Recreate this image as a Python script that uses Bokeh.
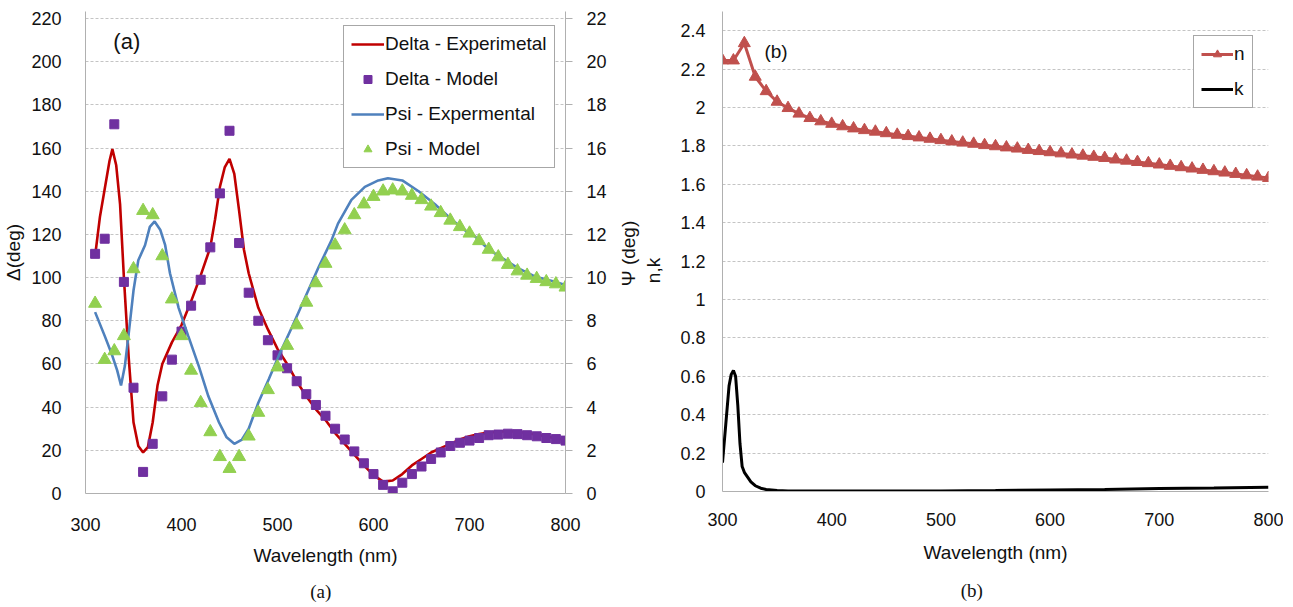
import math
from bokeh.plotting import figure
from bokeh.models import (Range1d, LinearAxis, SingleIntervalTicker, FixedTicker, Legend,
                          LegendItem, Label, Title, CustomJSTickFormatter)
from bokeh.layouts import row
from bokeh.embed import file_html
from bokeh.resources import INLINE

# ---------------- data: panel (a) ----------------
model_wl = list(range(310, 801, 10))
delta_model = [111, 118, 171, 98, 49, 10, 23, 45, 62, 75,
               87, 99, 114, 139, 168, 116, 93, 80, 71, 64,
               58, 52, 46, 41, 36, 30, 25, 19.5, 14, 9,
               4, 1, 5, 9, 12.5, 16, 19, 22, 23.5, 24.5,
               25.7, 27, 27.3, 27.7, 27.5, 27, 26.5, 25.7, 25.2, 24.5]
psi_model = [8.8, 6.2, 6.6, 7.3, 10.4, 13.1, 12.9, 11.0, 9.0, 7.3,
             5.7, 4.2, 2.85, 1.7, 1.15, 1.7, 2.65, 3.75, 4.8, 5.85,
             6.85, 7.8, 8.85, 9.75, 10.65, 11.5, 12.2, 12.9, 13.4, 13.75,
             14.0, 14.05, 14.0, 13.8, 13.6, 13.3, 13.0, 12.65, 12.35, 12.05,
             11.7, 11.3, 10.95, 10.6, 10.3, 10.1, 9.95, 9.8, 9.7, 9.55]

delta_exp_wl = [310, 315, 320, 325, 328, 332, 336, 340, 345, 350, 355, 360, 365, 370, 375,
                380, 390, 400, 410, 420, 430, 435, 440, 445, 450, 455, 460, 465, 470, 480,
                490, 500, 510, 520, 530, 540, 550, 560, 570, 580, 590, 600, 610, 620, 630,
                640, 650, 660, 670, 680, 690, 700, 710, 720, 730, 740, 750, 760, 770, 780,
                790, 800]
delta_exp = [110, 128, 141, 154, 159.5, 152, 134, 100, 63, 33, 22, 19, 21.5, 33, 50,
             60, 70, 78, 89, 101, 114, 127, 142, 151, 155, 148, 131, 113, 102, 86,
             76, 67, 60, 52, 45, 39, 34, 28, 23, 18, 13, 8.5, 5.5, 6, 9,
             13, 16, 19, 21, 23, 25, 26.5, 27.5, 28.2, 28.6, 28.8, 28.6, 28, 27.2, 26.4,
             25.6, 24.8]

psi_exp_wl = [310, 320, 327, 333, 337, 341, 345, 350, 355, 362, 367, 372, 378, 383, 388,
              397, 407, 418, 428, 439, 447, 455, 463, 470, 480, 491, 501, 515, 529, 543,
              556, 563, 577, 591, 605, 615, 630, 647, 664, 681, 695, 706, 720, 734, 750,
              768, 785, 800]
psi_exp = [8.4, 7.3, 6.5, 5.7, 5.0, 5.9, 7.4, 9.4, 10.8, 11.5, 12.35, 12.6, 12.2, 11.5, 10.2,
           8.6, 7.3, 5.9, 4.5, 3.3, 2.6, 2.3, 2.5, 3.0, 4.2, 5.3, 6.35, 7.7, 9.1, 10.5,
           11.7, 12.5, 13.6, 14.2, 14.5, 14.6, 14.5, 14.0, 13.4, 12.7, 12.2, 11.9, 11.3, 10.9, 10.45,
           10.05, 9.85, 9.66]

# ---------------- data: panel (b) ----------------
n_wl = list(range(300, 801, 10))
n_vals = [2.245, 2.245, 2.335, 2.16, 2.085, 2.03, 1.997, 1.968, 1.945, 1.928,
          1.915, 1.902, 1.891, 1.882, 1.874, 1.866, 1.858, 1.851, 1.844, 1.837,
          1.830, 1.823, 1.817, 1.811, 1.804, 1.798, 1.792, 1.786, 1.779, 1.773,
          1.767, 1.761, 1.755, 1.749, 1.743, 1.737, 1.729, 1.723, 1.716, 1.710,
          1.703, 1.696, 1.689, 1.682, 1.675, 1.668, 1.661, 1.654, 1.647, 1.640, 1.633]
k_wl = [300, 303, 306, 308, 310, 312, 314, 316, 318, 320, 323, 326, 330, 335, 340, 350,
        360, 380, 400, 450, 500, 550, 600, 650, 700, 750, 800]
k_vals = [0.15, 0.35, 0.55, 0.61, 0.63, 0.60, 0.45, 0.25, 0.13, 0.10, 0.075, 0.05, 0.03,
          0.017, 0.01, 0.005, 0.003, 0.002, 0.002, 0.002, 0.003, 0.005, 0.008, 0.011,
          0.015, 0.018, 0.022]

x_ticks = [300, 400, 500, 600, 700, 800]
nk_ticks = [0, 0.2, 0.4, 0.6, 0.8, 1.0, 1.2, 1.4, 1.6, 1.8, 2.0, 2.2, 2.4]

FONT = "Liberation Sans"
AX = "#b0b0b0"
GRID = "#c4c4c4"
TXT = "#111111"
NB = "\u00a0"


def style_axis(ax, standoff):
    ax.axis_line_color = AX
    ax.major_tick_line_color = None
    ax.minor_tick_line_color = None
    ax.major_tick_out = 0
    ax.major_tick_in = 0
    ax.major_label_standoff = standoff
    ax.major_label_text_font = FONT
    ax.major_label_text_font_size = "18px"
    ax.major_label_text_color = TXT
    ax.axis_label_text_font = FONT
    ax.axis_label_text_font_size = "19px"
    ax.axis_label_text_font_style = "normal"
    ax.axis_label_text_color = TXT


# ================= panel (a) =================
# frame top sits 7px above the 220 grid line so both panels share the same top border
d_top = 220 + 7 * 220 / 475.0
p1 = figure(frame_width=480, frame_height=482, x_range=Range1d(300, 800), y_range=Range1d(0, d_top),
            output_backend="svg", toolbar_location=None,
            min_border_left=79, min_border_right=45, min_border_top=11, min_border_bottom=111)
p1.extra_y_ranges = {"psi": Range1d(0, d_top / 10.0)}
p1.outline_line_color = None
p1.xgrid.visible = False
p1.ygrid.grid_line_color = GRID
p1.ygrid.grid_line_dash = "3 2"

p1.xaxis.ticker = FixedTicker(ticks=x_ticks)
p1.yaxis.ticker = SingleIntervalTicker(interval=20)
p1.xaxis.axis_label = "Wavelength (nm)"
p1.yaxis.axis_label = "Δ(deg)"
style_axis(p1.xaxis[0], 24)
style_axis(p1.yaxis[0], 20)
p1.xaxis.axis_label_standoff = 11
p1.yaxis.axis_label_standoff = 4

ax_psi = LinearAxis(y_range_name="psi", ticker=SingleIntervalTicker(interval=2))
style_axis(ax_psi, 14)
ax_psi.major_tick_out = 7
ax_psi.major_tick_line_color = AX
p1.add_layout(ax_psi, "right")

r_dexp = p1.line(delta_exp_wl, delta_exp, line_color="#c00000", line_width=2.6)
r_dmod = p1.scatter(model_wl, delta_model, marker="square", size=9,
                    fill_color="#7030a0", line_color="#7030a0")
r_pexp = p1.line(psi_exp_wl, psi_exp, y_range_name="psi", line_color="#4f81bd", line_width=2.6)
r_pmod = p1.scatter(model_wl, psi_model, y_range_name="psi", marker="triangle", size=13,
                    fill_color="#92d050", line_color="#92d050")

leg1 = Legend(items=[LegendItem(label="Delta - Experimetal", renderers=[r_dexp]),
                     LegendItem(label="Delta - Model", renderers=[r_dmod]),
                     LegendItem(label="Psi - Expermental", renderers=[r_pexp]),
                     LegendItem(label="Psi - Model", renderers=[r_pmod])],
              location=(258, 325), glyph_width=33, glyph_height=20, label_height=20,
              label_standoff=1, spacing=13, padding=7, margin=0,
              label_text_font=FONT, label_text_font_size="19px", label_text_color=TXT,
              border_line_color="#505050", border_line_width=1, background_fill_alpha=1)
p1.add_layout(leg1)

p1.add_layout(Label(x=343, y=209.4, text="(a)", text_font=FONT, text_font_size="22px",
                    text_align="center", text_baseline="middle", text_color=TXT))
p1.add_layout(Title(text="(a)" + NB * 2, align="center", standoff=21,
                    text_font="Liberation Serif", text_font_size="19px",
                    text_font_style="normal", text_color=TXT), "below")

# ================= middle strip with the two rotated axis titles =================
pm = figure(frame_width=56, frame_height=482, x_range=Range1d(0, 56), y_range=Range1d(0, 482),
            x_axis_type=None, y_axis_type=None, output_backend="svg", toolbar_location=None,
            min_border_left=0, min_border_right=0, min_border_top=11, min_border_bottom=0)
pm.outline_line_color = None
pm.add_layout(Label(x=18, y=240, text="Ψ (deg)", angle=math.pi / 2, text_font=FONT,
                    text_font_size="19px", text_align="center", text_baseline="middle",
                    text_color=TXT))
pm.add_layout(Label(x=43, y=223, text="n,k", angle=math.pi / 2, text_font=FONT,
                    text_font_size="19px", text_align="center", text_baseline="middle",
                    text_color=TXT))

# ================= panel (b) =================
p2 = figure(frame_width=546, frame_height=480, x_range=Range1d(300, 800), y_range=Range1d(0, 2.5),
            output_backend="svg", toolbar_location=None,
            min_border_left=56, min_border_right=15, min_border_top=11, min_border_bottom=113)
p2.outline_line_color = None
p2.xgrid.visible = False
p2.ygrid.grid_line_color = GRID
p2.ygrid.grid_line_dash = "3 2"
p2.xaxis.ticker = FixedTicker(ticks=x_ticks)
p2.yaxis.ticker = FixedTicker(ticks=nk_ticks)
p2.yaxis.formatter = CustomJSTickFormatter(code="return tick.toFixed(1).replace(/\\.0$/, '');")
p2.xaxis.axis_label = "Wavelength (nm)"
style_axis(p2.xaxis[0], 21)
style_axis(p2.yaxis[0], 17)
p2.xaxis.axis_label_standoff = 13

r_nl = p2.line(n_wl, n_vals, line_color="#c0504d", line_width=3)
r_ns = p2.scatter(n_wl, n_vals, marker="triangle", size=12, fill_color="#c0504d", line_color="#c0504d")
r_k = p2.line(k_wl, k_vals, line_color="black", line_width=3)

leg2 = Legend(items=[LegendItem(label="n", renderers=[r_nl, r_ns]),
                     LegendItem(label="k", renderers=[r_k])],
              location=(471, 383), glyph_width=32, glyph_height=20, label_height=20,
              label_width=10, label_standoff=1, spacing=13, padding=7, margin=0,
              label_text_font=FONT, label_text_font_size="19px", label_text_color=TXT,
              border_line_color="#505050", border_line_width=1, background_fill_alpha=1)
p2.add_layout(leg2)

p2.add_layout(Label(x=349, y=2.29, text="(b)", text_font=FONT, text_font_size="19px",
                    text_align="center", text_baseline="middle", text_color=TXT))
p2.add_layout(Title(text="(b)" + NB * 10, align="center", standoff=25,
                    text_font="Liberation Serif", text_font_size="19px",
                    text_font_style="normal", text_color=TXT), "below")

layout = row(p1, pm, p2)
open("out.html", "w").write(file_html(layout, INLINE))
